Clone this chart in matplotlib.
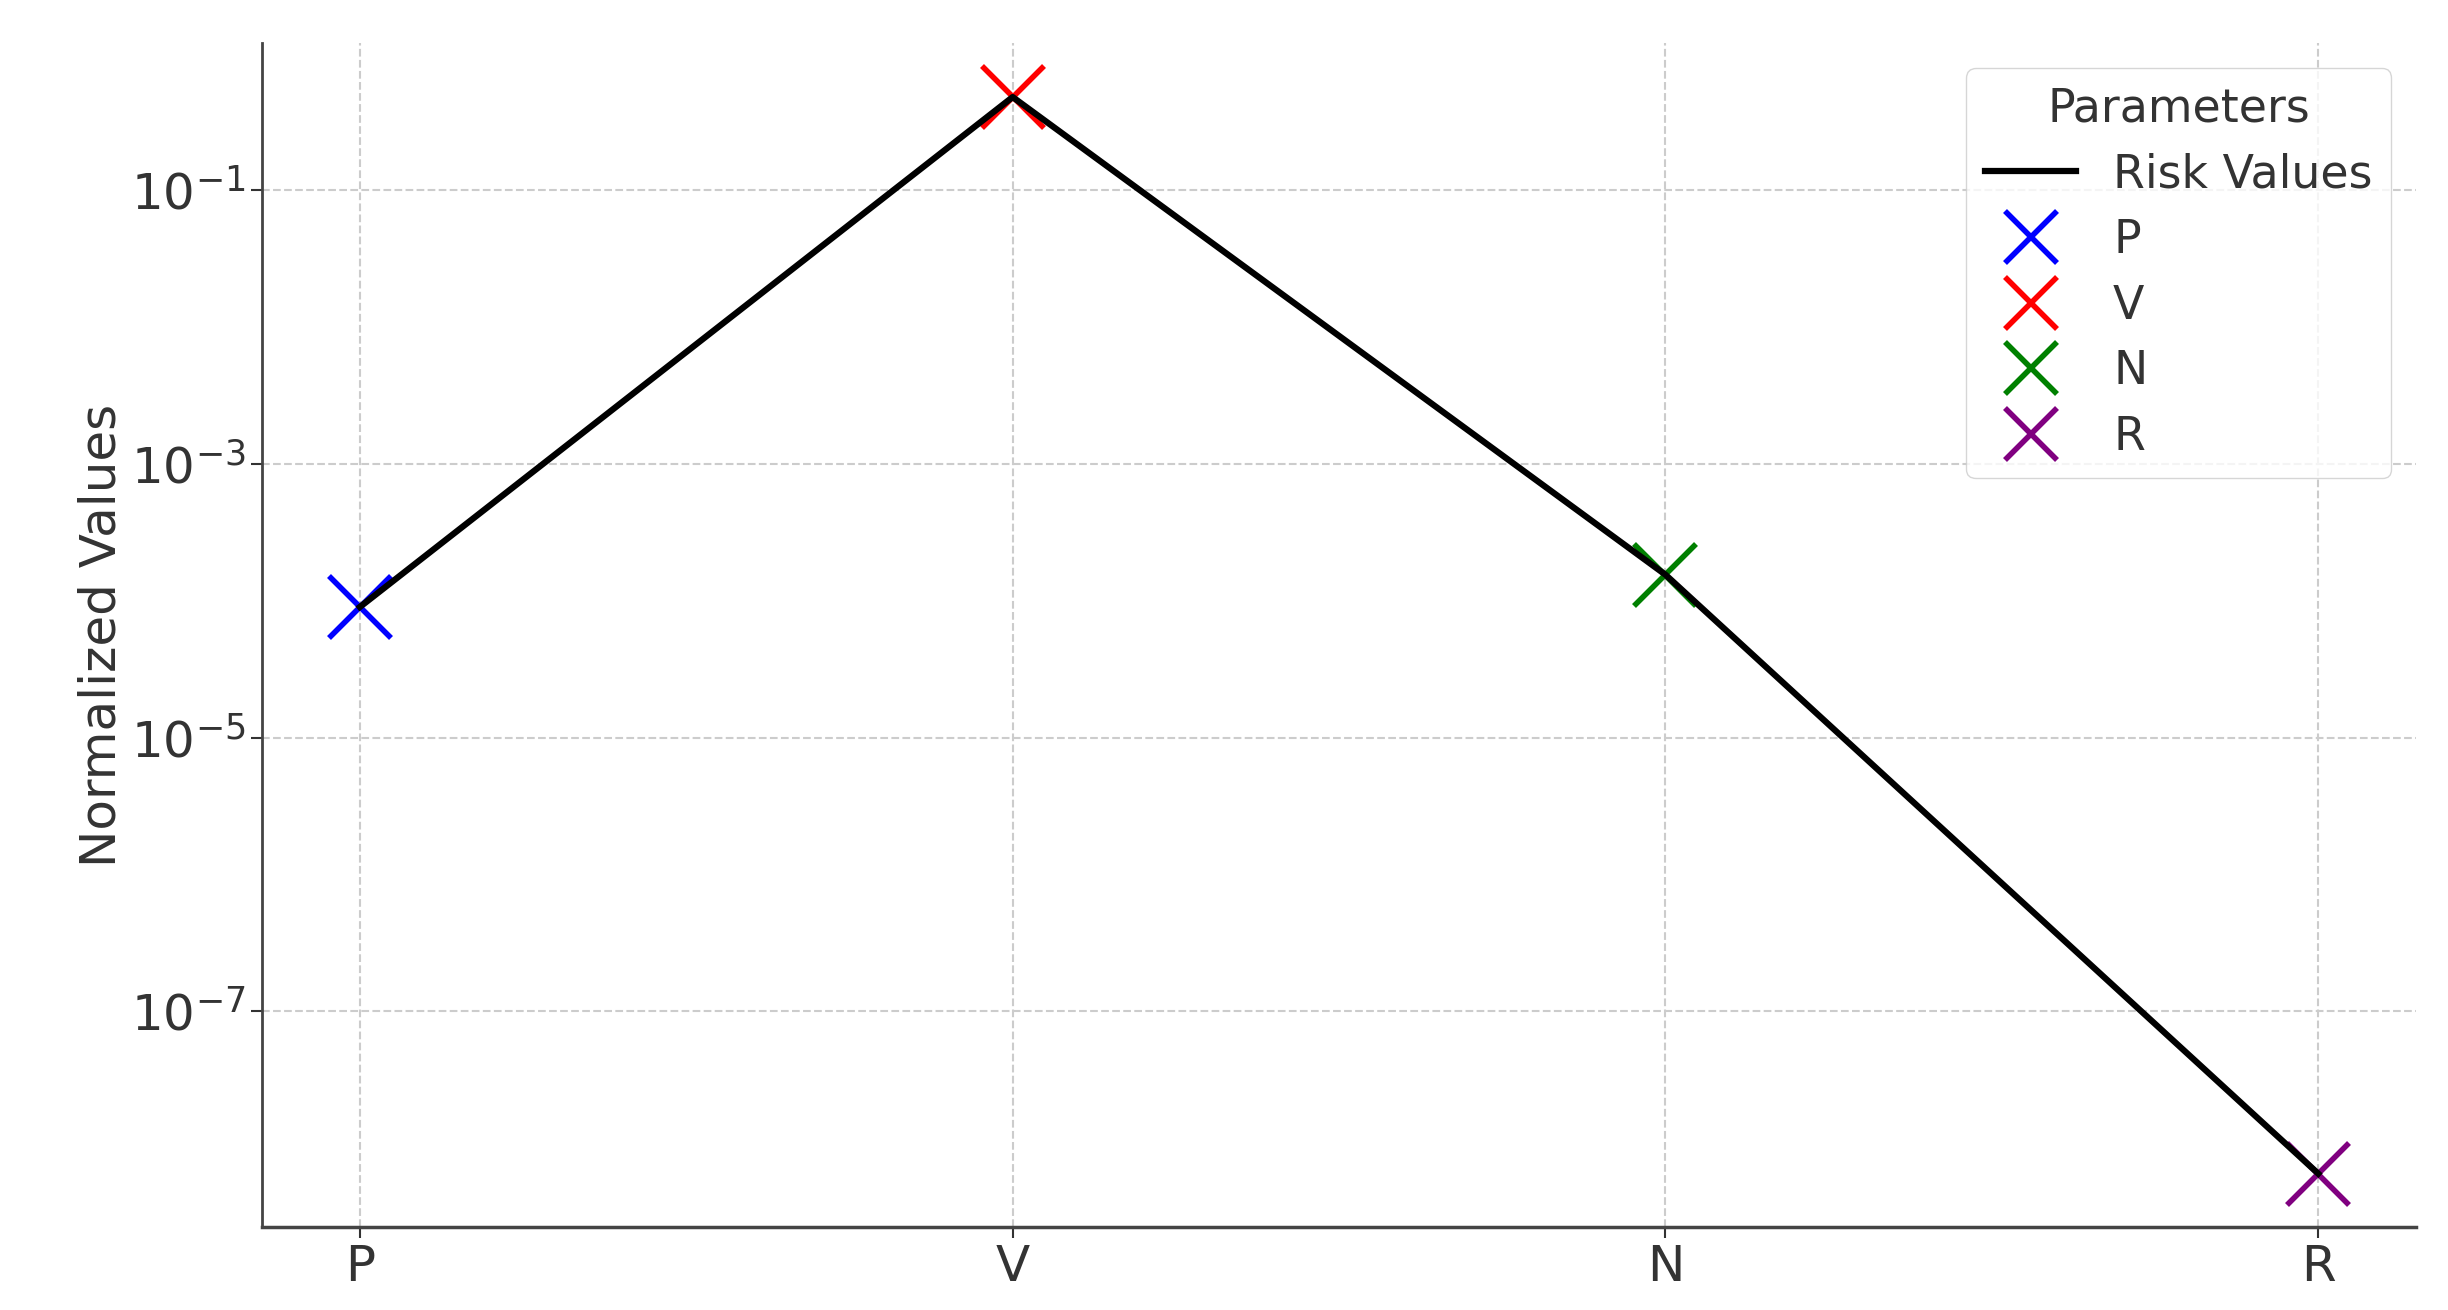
import matplotlib.pyplot as plt
import numpy as np

# data
params = ['P', 'V', 'N', 'R']
risk_values = [9.0e-5, 0.48, 1.55e-4, 6.5e-9]
colors = ['blue', 'red', 'green', 'purple']
ytick_vals = [1e-1, 1e-3, 1e-5, 1e-7]

fig = plt.figure(figsize=(24.48, 13.1), dpi=100)
ax = fig.add_axes([0.107, 0.063, 0.88, 0.904])

x = np.arange(len(params))
for i in range(len(params)):
    ax.plot(x[i], risk_values[i], 'x', color=colors[i], markersize=44,
            markeredgewidth=4, label=params[i], zorder=2)
line, = ax.plot(x, risk_values, 'k-', linewidth=4.5, label='Risk Values', zorder=3)

ax.set_yscale('log')
ax.set_xticks(x)
ax.set_xticklabels(params)
ax.yaxis.set_major_locator(plt.FixedLocator(ytick_vals))
ax.yaxis.set_minor_locator(plt.NullLocator())
ax.set_ylabel('Normalized Values', fontsize=36, color='#333333', labelpad=4)
ax.tick_params(axis='both', labelsize=36, length=8, width=1.5, colors='#333333')

ax.grid(True, linestyle='--', color='#cccccc', linewidth=1.5)
ax.spines['top'].set_visible(False)
ax.spines['right'].set_visible(False)
ax.spines['left'].set_linewidth(2)
ax.spines['bottom'].set_linewidth(2.5)
ax.spines['left'].set_color('#444444')
ax.spines['bottom'].set_color('#444444')

handles, labels = ax.get_legend_handles_labels()
order = [4, 0, 1, 2, 3]
leg = ax.legend([handles[i] for i in order], [labels[i] for i in order],
                title='Parameters', loc='upper right', fontsize=33,
                title_fontsize=33, markerscale=0.85, labelspacing=0.45,
                borderaxespad=0.55)
for t in leg.get_texts():
    t.set_color('#333333')
leg.get_title().set_color('#333333')

plt.savefig('out.png', dpi=100)
